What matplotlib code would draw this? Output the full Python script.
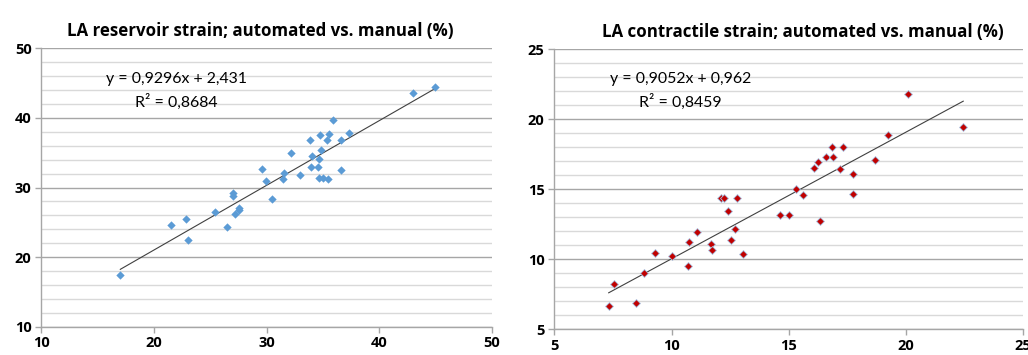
import numpy as np
import matplotlib.pyplot as plt
from matplotlib.ticker import MultipleLocator

# LA reservoir strain (%): manual on x, automated on y
res_manual = [17.01, 21.51, 22.87, 23.02, 25.41, 26.45, 26.98, 26.98, 27.19, 27.51,
              27.51, 29.59, 29.94, 30.50, 31.45, 31.54, 32.13, 32.96, 33.85, 33.93,
              34.05, 34.53, 34.62, 34.73, 34.82, 34.67, 35.03, 35.33, 35.47, 35.56,
              35.92, 36.63, 36.63, 37.34, 43.02, 44.94]
res_auto = [17.38, 24.61, 25.52, 22.41, 26.53, 24.28, 29.26, 28.83, 26.14, 27.10,
            26.77, 32.61, 30.89, 28.30, 31.17, 32.08, 34.91, 31.75, 36.87, 32.99,
            34.53, 32.90, 34.05, 37.55, 35.34, 31.41, 31.41, 36.78, 31.17, 37.69,
            39.75, 36.87, 32.51, 37.88, 43.53, 44.44]
res_slope, res_icept, res_r2 = 0.9296, 2.431, 0.8684

# LA contractile strain (%)
con_manual = [7.32, 7.56, 8.48, 8.81, 9.31, 10.02, 10.69, 10.74, 11.08, 11.70,
              11.74, 12.12, 12.22, 12.39, 12.52, 12.72, 12.79, 13.06, 14.64, 15.01,
              15.29, 15.62, 16.07, 16.24, 16.34, 16.57, 16.83, 16.87, 17.17, 17.30,
              17.72, 17.72, 18.67, 19.23, 20.10, 22.44]
con_auto = [6.64, 8.24, 6.86, 9.02, 10.40, 10.21, 9.52, 11.21, 11.90, 11.10,
            10.62, 14.33, 14.33, 13.45, 11.38, 12.12, 14.33, 10.36, 13.12, 13.12,
            15.00, 14.60, 16.48, 16.93, 12.71, 17.31, 17.98, 17.31, 16.43, 17.98,
            16.10, 14.67, 17.10, 18.83, 21.81, 19.43]
con_slope, con_icept, con_r2 = 0.9052, 0.962, 0.8459

plt.rcParams['font.family'] = ['Lato', 'DejaVu Sans']
BOLD = ['Open Sans', 'DejaVu Sans']

fig = plt.figure(figsize=(10.28, 3.55), dpi=100)
ax1 = fig.add_axes([0.0402, 0.0797, 0.4384, 0.7842])
ax2 = fig.add_axes([0.5392, 0.0732, 0.4562, 0.7887])


def style_axes(ax, lo, hi, major, minor):
    ax.set_xlim(lo, hi)
    ax.set_ylim(lo, hi)
    ax.xaxis.set_major_locator(MultipleLocator(major))
    ax.yaxis.set_major_locator(MultipleLocator(major))
    ax.yaxis.set_minor_locator(MultipleLocator(minor))
    ax.grid(axis='y', which='major', color='#a6a6a6', lw=1.0, zorder=0)
    ax.grid(axis='y', which='minor', color='#d9d9d9', lw=1.0, zorder=0)
    ax.set_axisbelow(True)
    for s in ('top', 'right'):
        ax.spines[s].set_visible(False)
    for s in ('left', 'bottom'):
        ax.spines[s].set_color('#a6a6a6')
        ax.spines[s].set_linewidth(1.0)
    ax.tick_params(which='major', direction='out', length=4, width=1,
                   color='#a6a6a6', labelsize=10.5, labelcolor='black', pad=3)
    ax.tick_params(which='minor', length=0)
    for lab in ax.get_xticklabels() + ax.get_yticklabels():
        lab.set_fontweight('bold')
        lab.set_family(BOLD)


def trend(ax, xs, slope, icept, r2, tx, ty):
    x0, x1 = min(xs), max(xs)
    xx = np.array([x0, x1])
    ax.plot(xx, slope * xx + icept, color='#404040', lw=0.8, zorder=2)
    eq = f"y = {slope:.4f}x + {icept:.3f}".replace('.', ',')
    r = f"R² = {r2:.4f}".replace('.', ',')
    ax.text(tx, ty, eq, transform=ax.transAxes, ha='center', va='center', fontsize=11.4)
    ax.text(tx, ty - 0.08, r, transform=ax.transAxes, ha='center', va='center', fontsize=11.4)


ax1.scatter(res_manual, res_auto, marker='D', s=18, color='#5b9bd5', lw=0, zorder=3)
style_axes(ax1, 10, 50, 10, 2)
trend(ax1, res_manual, res_slope, res_icept, res_r2, 0.300, 0.889)
ax1.set_title("LA reservoir strain; automated vs. manual (%)", fontsize=12.2,
              fontweight='bold', family=BOLD, x=0.486, pad=9)

ax2.scatter(con_manual, con_auto, marker='D', s=16, color='#c00000',
            edgecolors='#a9c4e4', lw=0.6, zorder=3)
style_axes(ax2, 5, 25, 5, 1)
trend(ax2, con_manual, con_slope, con_icept, con_r2, 0.269, 0.893)
ax2.set_title("LA contractile strain; automated vs. manual (%)", fontsize=12.2,
              fontweight='bold', family=BOLD, x=0.530, pad=9)

fig.savefig('out.png', dpi=100)
